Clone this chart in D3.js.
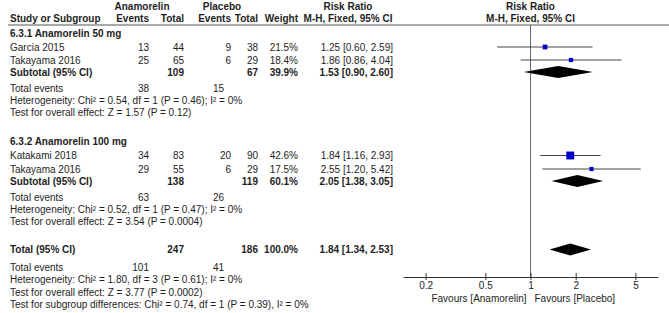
<!DOCTYPE html>
<html><head><meta charset="utf-8">
<script src="https://cdn.jsdelivr.net/npm/d3@7"></script>
<style>
body{margin:0;background:#fff;}
text{font-family:"Liberation Sans",Arial,sans-serif;font-size:10px;fill:#1e1e1e;}
.b{font-weight:bold;}
</style></head><body>
<script>
// ---------- data ----------
const groupNames = ["6.3.1 Anamorelin 50 mg", "6.3.2 Anamorelin 100 mg"];
const studyNames = ["Garcia 2015", "Takayama 2016", "Katakami 2018", "Takayama 2016"];
const studyGroup = [0, 0, 1, 1];
const expEvents = [13, 25, 34, 29];
const expTotal = [44, 65, 83, 55];
const ctlEvents = [9, 6, 20, 6];
const ctlTotal = [38, 29, 90, 29];
const weights = [21.5, 18.4, 42.6, 17.5];
const rr = [1.25, 1.86, 1.84, 2.55];
const rrLo = [0.60, 0.86, 1.16, 1.20];
const rrHi = [2.59, 4.04, 2.93, 5.42];

const subExpTotal = [109, 138];
const subCtlTotal = [67, 119];
const subWeight = [39.9, 60.1];
const subRR = [1.53, 2.05];
const subLo = [0.90, 1.38];
const subHi = [2.60, 3.05];
const subExpEvents = [38, 63];
const subCtlEvents = [15, 26];
const subHetero = ["Heterogeneity: Chi\u00b2 = 0.54, df = 1 (P = 0.46); I\u00b2 = 0%",
                   "Heterogeneity: Chi\u00b2 = 0.52, df = 1 (P = 0.47); I\u00b2 = 0%"];
const subOverall = ["Test for overall effect: Z = 1.57 (P = 0.12)",
                    "Test for overall effect: Z = 3.54 (P = 0.0004)"];

const totExpTotal = 247, totCtlTotal = 186, totWeight = 100.0;
const totRR = 1.84, totLo = 1.34, totHi = 2.53;
const totExpEvents = 101, totCtlEvents = 41;
const totHetero = "Heterogeneity: Chi\u00b2 = 1.80, df = 3 (P = 0.61); I\u00b2 = 0%";
const totOverall = "Test for overall effect: Z = 3.77 (P = 0.0002)";
const subgroupDiff = "Test for subgroup differences: Chi\u00b2 = 0.74, df = 1 (P = 0.39), I\u00b2 = 0%";

const tickValues = [0.2, 0.5, 1, 2, 5];
const favourLeft = "Favours [Anamorelin]";
const favourRight = "Favours [Placebo]";

// ---------- layout ----------
const W = 669, H = 313;
const svg = d3.select("body").append("svg").attr("width", W).attr("height", H);
const x = d3.scaleLog().domain([1/7.07, 7.07]).range([403, 658]);
const sq = d3.scaleLinear().domain([0, 100]).range([1.5, 16.5]);
const fmtW = d3.format(".1f");
const fmt2 = d3.format(".2f");
const ciText = (m, l, h) => `${fmt2(m)} [${fmt2(l)}, ${fmt2(h)}]`;

const L = 10;
const col = {eE: 149, eT: 184, cE: 231, cT: 258, w: 298, rr: 393, teC: 224};
const groupY = [33, 141];
const studyY = [47, 60, 155.5, 169];
const subY = [72, 181];
const subTEY = [88, 197];
const subHetY = [100, 209];
const subOvY = [112, 221];
const totY = 249.5, totTEY = 267, totHetY = 279.5, totOvY = 292, sgY = 304.5;
const axisY = 277;
const bl = 3.5; // baseline offset

function txt(xp, y, s, anchor, bold) {
  svg.append("text").attr("x", xp).attr("y", y + bl)
    .attr("text-anchor", anchor || "start").attr("class", bold ? "b" : null).text(s);
}

// header
txt(142, 6, "Anamorelin", "middle", true);
txt(222, 6, "Placebo", "middle", true);
txt(348, 6, "Risk Ratio", "middle", true);
txt(530.5, 6, "Risk Ratio", "middle", true);
txt(L, 18, "Study or Subgroup", "start", true);
txt(col.eE, 18, "Events", "end", true);
txt(col.eT, 18, "Total", "end", true);
txt(col.cE, 18, "Events", "end", true);
txt(col.cT, 18, "Total", "end", true);
txt(col.w, 18, "Weight", "end", true);
txt(348, 18, "M-H, Fixed, 95% CI", "middle", true);
txt(530.5, 18, "M-H, Fixed, 95% CI", "middle", true);
svg.append("line").attr("x1", 8).attr("x2", W).attr("y1", 25).attr("y2", 25)
  .attr("stroke", "#555").attr("stroke-width", 1);

// null line
svg.append("line").attr("x1", x(1)).attr("x2", x(1)).attr("y1", 25).attr("y2", axisY)
  .attr("stroke", "#666").attr("stroke-width", 1);

// groups
groupNames.forEach((g, gi) => {
  txt(L, groupY[gi], g, "start", true);
  txt(L, subY[gi], "Subtotal (95% CI)", "start", true);
  txt(col.eT, subY[gi], subExpTotal[gi], "end", true);
  txt(col.cT, subY[gi], subCtlTotal[gi], "end", true);
  txt(col.w, subY[gi], fmtW(subWeight[gi]) + "%", "end", true);
  txt(col.rr, subY[gi], ciText(subRR[gi], subLo[gi], subHi[gi]), "end", true);
  txt(L, subTEY[gi], "Total events");
  txt(col.eE, subTEY[gi], subExpEvents[gi], "end");
  txt(col.teC, subTEY[gi], subCtlEvents[gi], "end");
  txt(L, subHetY[gi], subHetero[gi]);
  txt(L, subOvY[gi], subOverall[gi]);
  const y = subY[gi];
  svg.append("path").attr("d", `M${x(subLo[gi])},${y}L${x(subRR[gi])},${y-6}L${x(subHi[gi])},${y}L${x(subRR[gi])},${y+6}Z`)
    .attr("fill", "#000");
});

// studies
studyNames.forEach((s, i) => {
  const y = studyY[i];
  txt(L, y, s);
  txt(col.eE, y, expEvents[i], "end");
  txt(col.eT, y, expTotal[i], "end");
  txt(col.cE, y, ctlEvents[i], "end");
  txt(col.cT, y, ctlTotal[i], "end");
  txt(col.w, y, fmtW(weights[i]) + "%", "end");
  txt(col.rr, y, ciText(rr[i], rrLo[i], rrHi[i]), "end");
  svg.append("line").attr("x1", x(rrLo[i])).attr("x2", x(rrHi[i])).attr("y1", y).attr("y2", y)
    .attr("stroke", "#444").attr("stroke-width", 1);
  const s2 = sq(weights[i]);
  svg.append("rect").attr("x", x(rr[i]) - s2/2).attr("y", y - s2/2).attr("width", s2).attr("height", s2)
    .attr("fill", "#0000cc");
});

// total
txt(L, totY, "Total (95% CI)", "start", true);
txt(col.eT, totY, totExpTotal, "end", true);
txt(col.cT, totY, totCtlTotal, "end", true);
txt(col.w, totY, fmtW(totWeight) + "%", "end", true);
txt(col.rr, totY, ciText(totRR, totLo, totHi), "end", true);
svg.append("path").attr("d", `M${x(totLo)},${totY}L${x(totRR)},${totY-6}L${x(totHi)},${totY}L${x(totRR)},${totY+6}Z`)
  .attr("fill", "#000");
txt(L, totTEY, "Total events");
txt(col.eE, totTEY, totExpEvents, "end");
txt(col.teC, totTEY, totCtlEvents, "end");
txt(L, totHetY, totHetero);
txt(L, totOvY, totOverall);
txt(L, sgY, subgroupDiff);

// axis
const axis = d3.axisBottom(x).tickValues(tickValues).tickFormat(d3.format("")).tickSizeInner(3).tickSizeOuter(0).tickPadding(2);
const ag = svg.append("g").attr("transform", `translate(0,${axisY})`).call(axis);
ag.select(".domain").attr("stroke", "#333");
ag.selectAll(".tick line").attr("y1", -4).attr("y2", 3).attr("stroke", "#333");
ag.selectAll(".tick text").attr("font-family", "Liberation Sans, Arial, sans-serif").attr("font-size", 10).attr("fill", "#1e1e1e").attr("dy", "0.71em");
svg.append("text").attr("x", x(1) - 4).attr("y", 302).attr("text-anchor", "end").text(favourLeft);
svg.append("text").attr("x", x(1) + 4).attr("y", 302).attr("text-anchor", "start").text(favourRight);
</script>
</body></html>
